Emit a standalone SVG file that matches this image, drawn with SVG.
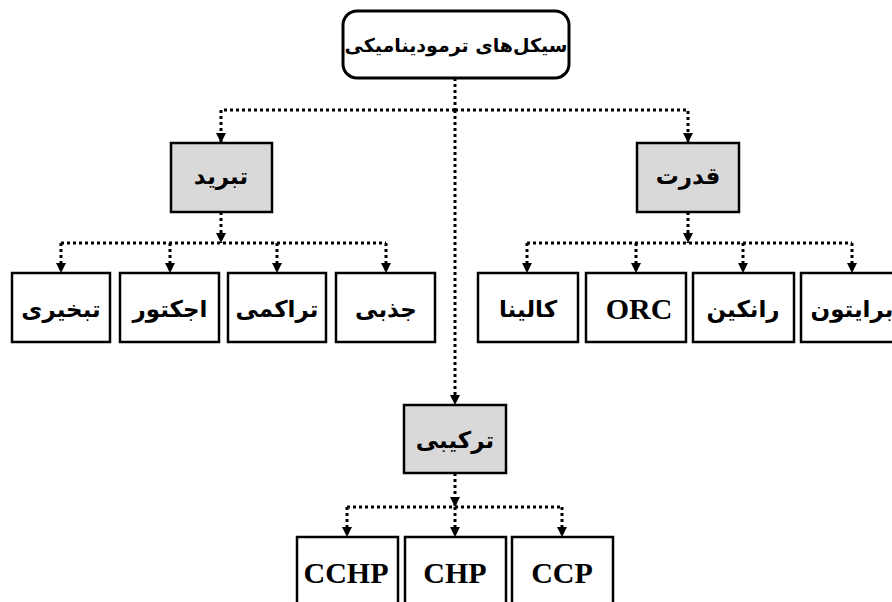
<svg xmlns="http://www.w3.org/2000/svg" width="892" height="602" viewBox="0 0 892 602">
  <style>
    .box { fill: #ffffff; stroke: #000000; stroke-width: 2.5; }
    .cat { fill: #d9d9d9; stroke: #000000; stroke-width: 2.5; }
    .fa { font-family: "DejaVu Sans", "Noto Sans", sans-serif; font-weight: bold; font-size: 23px; fill: #000; text-anchor: middle; direction: rtl; }
    .en { font-family: "Liberation Serif", "Times New Roman", serif; font-weight: bold; font-size: 30px; fill: #000; text-anchor: middle; }
    .dot { fill: none; stroke: #000000; stroke-width: 3; stroke-dasharray: 3 3; }
  </style>
  <defs>
    <marker id="arrow" viewBox="0 0 10 10" refX="10" refY="5" markerWidth="10" markerHeight="10" markerUnits="userSpaceOnUse" orient="auto">
      <path d="M0,0 L10,5 L0,10 Z" fill="#000000"/>
    </marker>
  </defs>
  <rect width="892" height="602" fill="#ffffff"/>

  <!-- connectors -->
  <g id="connectors">
    <!-- root to main categories -->
    <path class="dot" d="M455,78 V110"/>
    <path class="dot" d="M455,110 H221 V143" marker-end="url(#arrow)"/>
    <path class="dot" d="M455,110 H688 V143" marker-end="url(#arrow)"/>
    <path class="dot" d="M455,110 V405" marker-end="url(#arrow)"/>

    <!-- refrigeration branch -->
    <path class="dot" d="M221,212 V243" marker-end="url(#arrow)"/>
    <path class="dot" d="M61,243 H386"/>
    <path class="dot" d="M61,243 V273" marker-end="url(#arrow)"/>
    <path class="dot" d="M170,243 V273" marker-end="url(#arrow)"/>
    <path class="dot" d="M277,243 V273" marker-end="url(#arrow)"/>
    <path class="dot" d="M386,243 V273" marker-end="url(#arrow)"/>

    <!-- power branch -->
    <path class="dot" d="M688,212 V243" marker-end="url(#arrow)"/>
    <path class="dot" d="M527,243 H852"/>
    <path class="dot" d="M527,243 V273" marker-end="url(#arrow)"/>
    <path class="dot" d="M636,243 V273" marker-end="url(#arrow)"/>
    <path class="dot" d="M743,243 V273" marker-end="url(#arrow)"/>
    <path class="dot" d="M852,243 V273" marker-end="url(#arrow)"/>

    <!-- combined branch -->
    <path class="dot" d="M455,473 V507" marker-end="url(#arrow)"/>
    <path class="dot" d="M347,507 H562"/>
    <path class="dot" d="M347,507 V537" marker-end="url(#arrow)"/>
    <path class="dot" d="M455,507 V537" marker-end="url(#arrow)"/>
    <path class="dot" d="M562,507 V537" marker-end="url(#arrow)"/>
  </g>

  <!-- root -->
  <g id="root">
    <rect x="343" y="11" width="226" height="67" rx="14" ry="14" fill="#ffffff" stroke="#000000" stroke-width="3"/>
    <text class="fa" x="456" y="52" style="font-size:19px">سیکل‌های ترمودینامیکی</text>
  </g>

  <!-- main categories -->
  <g id="refrigeration">
    <rect class="cat" x="171" y="143" width="101" height="69"/>
    <text class="fa" x="221" y="184">تبرید</text>
  </g>
  <g id="power">
    <rect class="cat" x="637" y="143" width="102" height="69"/>
    <text class="fa" x="688" y="184">قدرت</text>
  </g>
  <g id="combined">
    <rect class="cat" x="404" y="405" width="102" height="68"/>
    <text class="fa" x="455" y="448">ترکیبی</text>
  </g>

  <!-- refrigeration cycles -->
  <g id="evaporative">
    <rect class="box" x="12" y="273" width="98" height="69"/>
    <text class="fa" x="61" y="317">تبخیری</text>
  </g>
  <g id="ejector">
    <rect class="box" x="120" y="273" width="99" height="69"/>
    <text class="fa" x="170" y="317">اجکتور</text>
  </g>
  <g id="compression">
    <rect class="box" x="228" y="273" width="98" height="69"/>
    <text class="fa" x="277" y="317">تراکمی</text>
  </g>
  <g id="absorption">
    <rect class="box" x="336" y="273" width="99" height="69"/>
    <text class="fa" x="386" y="317">جذبی</text>
  </g>

  <!-- power cycles -->
  <g id="kalina">
    <rect class="box" x="478" y="273" width="100" height="69"/>
    <text class="fa" x="528" y="317">کالینا</text>
  </g>
  <g id="orc">
    <rect class="box" x="586" y="273" width="100" height="69"/>
    <text class="en" x="639" y="319">ORC</text>
  </g>
  <g id="rankine">
    <rect class="box" x="693" y="273" width="101" height="69"/>
    <text class="fa" x="743" y="317">رانکین</text>
  </g>
  <g id="brayton">
    <rect class="box" x="801" y="273" width="101" height="69"/>
    <text class="fa" x="852" y="317">برایتون</text>
  </g>

  <!-- combined cycles -->
  <g id="cchp">
    <rect class="box" x="297" y="537" width="101" height="70"/>
    <text class="en" x="346" y="583">CCHP</text>
  </g>
  <g id="chp">
    <rect class="box" x="405" y="537" width="101" height="70"/>
    <text class="en" x="455" y="583">CHP</text>
  </g>
  <g id="ccp">
    <rect class="box" x="512" y="537" width="101" height="70"/>
    <text class="en" x="562" y="583">CCP</text>
  </g>
</svg>
